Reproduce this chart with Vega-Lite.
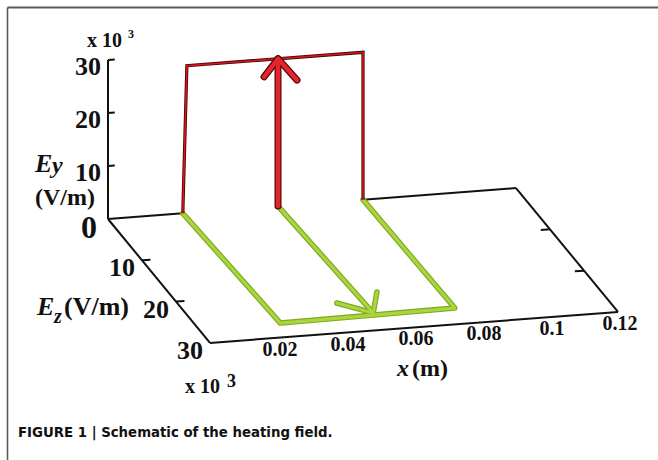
{
  "$schema": "https://vega.github.io/schema/vega-lite/v6.json",
  "width": 651,
  "height": 453,
  "autosize": "none",
  "padding": {"left": 7, "top": 7, "right": 0, "bottom": 0},
  "background": "white",
  "config": {"view": {"stroke": null}},
  "title": {
    "text": "FIGURE 1 | Schematic of the heating field.",
    "orient": "bottom",
    "anchor": "start",
    "offset": -23,
    "dx": 11,
    "baseline": "alphabetic",
    "font": "DejaVu Sans Condensed, Liberation Sans, sans-serif",
    "fontSize": 14.8,
    "fontWeight": "bold",
    "color": "#111111"
  },
  "data": {
    "values": [
      {"g": "axis", "seg": "ey", "i": 0, "x": 0, "ey": 0, "ez": 0},
      {"g": "axis", "seg": "ey", "i": 1, "x": 0, "ey": 30000, "ez": 0},
      {"g": "axis", "seg": "eyT1", "i": 0, "x": 0, "ey": 10000, "ez": 0},
      {"g": "axis", "seg": "eyT1", "i": 1, "x": 0.002, "ey": 10000, "ez": 0},
      {"g": "axis", "seg": "eyT2", "i": 0, "x": 0, "ey": 20000, "ez": 0},
      {"g": "axis", "seg": "eyT2", "i": 1, "x": 0.002, "ey": 20000, "ez": 0},
      {"g": "axis", "seg": "eyT3", "i": 0, "x": 0, "ey": 30000, "ez": 0},
      {"g": "axis", "seg": "eyT3", "i": 1, "x": 0.002, "ey": 30000, "ez": 0},
      {"g": "axis", "seg": "ezL", "i": 0, "x": 0, "ey": 0, "ez": 0},
      {"g": "axis", "seg": "ezL", "i": 1, "x": 0, "ey": 0, "ez": 30000},
      {"g": "axis", "seg": "ezLT1", "i": 0, "x": 0, "ey": 0, "ez": 10000},
      {"g": "axis", "seg": "ezLT1", "i": 1, "x": 0.0025, "ey": 0, "ez": 10000},
      {"g": "axis", "seg": "ezLT2", "i": 0, "x": 0, "ey": 0, "ez": 20000},
      {"g": "axis", "seg": "ezLT2", "i": 1, "x": 0.0025, "ey": 0, "ez": 20000},
      {"g": "axis", "seg": "xF", "i": 0, "x": 0, "ey": 0, "ez": 30000},
      {"g": "axis", "seg": "xF", "i": 1, "x": 0.12, "ey": 0, "ez": 30000},
      {"g": "axis", "seg": "xBL", "i": 0, "x": 0, "ey": 0, "ez": 0},
      {"g": "axis", "seg": "xBL", "i": 1, "x": 0.022, "ey": 0, "ez": 0},
      {"g": "axis", "seg": "xBR", "i": 0, "x": 0.075, "ey": 0, "ez": 0},
      {"g": "axis", "seg": "xBR", "i": 1, "x": 0.12, "ey": 0, "ez": 0},
      {"g": "axis", "seg": "ezR", "i": 0, "x": 0.12, "ey": 0, "ez": 0},
      {"g": "axis", "seg": "ezR", "i": 1, "x": 0.12, "ey": 0, "ez": 30000},
      {"g": "axis", "seg": "ezRT1", "i": 0, "x": 0.12, "ey": 0, "ez": 10000},
      {"g": "axis", "seg": "ezRT1", "i": 1, "x": 0.1173, "ey": 0, "ez": 10000},
      {"g": "axis", "seg": "ezRT2", "i": 0, "x": 0.12, "ey": 0, "ez": 20000},
      {"g": "axis", "seg": "ezRT2", "i": 1, "x": 0.1173, "ey": 0, "ez": 20000},
      {"g": "plane", "seg": "rect", "i": 0, "x": 0.022, "ey": 0, "ez": 0},
      {"g": "plane", "seg": "rect", "i": 1, "x": 0.024, "ey": 0, "ez": 26700},
      {"g": "plane", "seg": "rect", "i": 2, "x": 0.0757, "ey": 0, "ez": 26300},
      {"g": "plane", "seg": "rect", "i": 3, "x": 0.075, "ey": 0, "ez": 0},
      {"g": "plane", "seg": "shaft", "i": 0, "x": 0.05, "ey": 0, "ez": 0},
      {"g": "plane", "seg": "shaft", "i": 1, "x": 0.052, "ey": 0, "ez": 26000},
      {"g": "plane", "seg": "head", "i": 0, "x": 0.0442, "ey": 0, "ez": 23100},
      {"g": "plane", "seg": "head", "i": 1, "x": 0.052, "ey": 0, "ez": 26000},
      {"g": "plane", "seg": "head", "i": 2, "x": 0.0578, "ey": 0, "ez": 21290},
      {"g": "wall", "seg": "wall", "i": 0, "x": 0.022, "ey": 0, "ez": 0},
      {"g": "wall", "seg": "wall", "i": 1, "x": 0.0232, "ey": 27800, "ez": 0},
      {"g": "wall", "seg": "wall", "i": 2, "x": 0.075, "ey": 27800, "ez": 0},
      {"g": "wall", "seg": "wall", "i": 3, "x": 0.075, "ey": 0, "ez": 0},
      {"g": "arrow", "seg": "shaft", "i": 0, "x": 0.05, "ey": 0, "ez": 0},
      {"g": "arrow", "seg": "shaft", "i": 1, "x": 0.05, "ey": 27800, "ez": 0},
      {"g": "arrow", "seg": "head", "i": 0, "x": 0.0459, "ey": 24600, "ez": 0},
      {"g": "arrow", "seg": "head", "i": 1, "x": 0.05, "ey": 27800, "ez": 0},
      {"g": "arrow", "seg": "head", "i": 2, "x": 0.0556, "ey": 23500, "ez": 0},
      {"g": "eyTick", "text": "10", "x": 0, "ey": 10000, "ez": 0},
      {"g": "eyTick", "text": "20", "x": 0, "ey": 20000, "ez": 0},
      {"g": "eyTick", "text": "30", "x": 0, "ey": 30000, "ez": 0},
      {"g": "zero", "text": "0", "x": 0, "ey": 0, "ez": 0},
      {"g": "ezTick", "text": "10", "x": 0, "ey": 0, "ez": 10000},
      {"g": "ezTick", "text": "20", "x": 0, "ey": 0, "ez": 20000},
      {"g": "ezTick", "text": "30", "x": 0, "ey": 0, "ez": 30000},
      {"g": "xTick", "text": "0.02", "x": 0.02, "ey": 0, "ez": 30000},
      {"g": "xTick", "text": "0.04", "x": 0.04, "ey": 0, "ez": 30000},
      {"g": "xTick", "text": "0.06", "x": 0.06, "ey": 0, "ez": 30000},
      {"g": "xTick", "text": "0.08", "x": 0.08, "ey": 0, "ez": 30000},
      {"g": "xTick", "text": "0.1", "x": 0.1, "ey": 0, "ez": 30000},
      {"g": "xTick", "text": "0.12", "x": 0.12, "ey": 0, "ez": 30000},
      {"g": "eyE", "text": "E", "x": 0, "ey": 10000, "ez": 0},
      {"g": "eySub", "text": "y", "x": 0, "ey": 10000, "ez": 0},
      {"g": "eyUnit", "text": "(V/m)", "x": 0, "ey": 10000, "ez": 0},
      {"g": "eyExp", "text": "x 10", "x": 0, "ey": 30000, "ez": 0},
      {"g": "eyExpSup", "text": "3", "x": 0, "ey": 30000, "ez": 0},
      {"g": "ezE", "text": "E", "x": 0, "ey": 0, "ez": 20000},
      {"g": "ezSub", "text": "z", "x": 0, "ey": 0, "ez": 20000},
      {"g": "ezUnit", "text": "(V/m)", "x": 0, "ey": 0, "ez": 20000},
      {"g": "ezExp", "text": "x 10", "x": 0, "ey": 0, "ez": 30000},
      {"g": "ezExpSup", "text": "3", "x": 0, "ey": 0, "ez": 30000},
      {"g": "xVar", "text": "x", "x": 0.06, "ey": 0, "ez": 30000},
      {"g": "xUnit", "text": "(m)", "x": 0.06, "ey": 0, "ez": 30000}
    ]
  },
  "transform": [
    {"calculate": "3400 * datum.x + 0.0034 * datum.ez", "as": "sx"},
    {"calculate": "0.0053 * datum.ey - 0.00413 * datum.ez + 258 * datum.x", "as": "sy"}
  ],
  "encoding": {
    "x": {
      "field": "sx", "type": "quantitative",
      "scale": {"domain": [-101, 550], "nice": false, "zero": false},
      "axis": {"orient": "top", "domain": true, "domainColor": "#5a5a5a", "domainWidth": 2, "ticks": false, "labels": false, "grid": false, "title": null}
    },
    "y": {
      "field": "sy", "type": "quantitative",
      "scale": {"domain": [-241, 212], "nice": false, "zero": false},
      "axis": {"orient": "left", "domain": true, "domainColor": "#5a5a5a", "domainWidth": 1.6, "ticks": false, "labels": false, "grid": false, "title": null}
    }
  },
  "layer": [
    {
      "transform": [{"filter": "datum.g == 'axis'"}],
      "mark": {"type": "line", "color": "#111111", "strokeWidth": 2},
      "encoding": {"detail": {"field": "seg", "type": "nominal"}, "order": {"field": "i", "type": "quantitative"}}
    },
    {
      "transform": [{"filter": "datum.g == 'plane'"}],
      "mark": {"type": "line", "color": "#7fa825", "strokeWidth": 5.5, "strokeCap": "round", "strokeJoin": "round"},
      "encoding": {"detail": {"field": "seg", "type": "nominal"}, "order": {"field": "i", "type": "quantitative"}}
    },
    {
      "transform": [{"filter": "datum.g == 'plane'"}],
      "mark": {"type": "line", "color": "#a8d63c", "strokeWidth": 3.2, "strokeCap": "round", "strokeJoin": "round"},
      "encoding": {"detail": {"field": "seg", "type": "nominal"}, "order": {"field": "i", "type": "quantitative"}}
    },
    {
      "transform": [{"filter": "datum.g == 'wall'"}],
      "mark": {"type": "line", "color": "#3a0505", "strokeWidth": 3.2},
      "encoding": {"detail": {"field": "seg", "type": "nominal"}, "order": {"field": "i", "type": "quantitative"}}
    },
    {
      "transform": [{"filter": "datum.g == 'wall'"}],
      "mark": {"type": "line", "color": "#d9161f", "strokeWidth": 1.6},
      "encoding": {"detail": {"field": "seg", "type": "nominal"}, "order": {"field": "i", "type": "quantitative"}}
    },
    {
      "transform": [{"filter": "datum.g == 'arrow'"}],
      "mark": {"type": "line", "color": "#5a0808", "strokeWidth": 7, "strokeCap": "round", "strokeJoin": "round"},
      "encoding": {"detail": {"field": "seg", "type": "nominal"}, "order": {"field": "i", "type": "quantitative"}}
    },
    {
      "transform": [{"filter": "datum.g == 'arrow'"}],
      "mark": {"type": "line", "color": "#e3262d", "strokeWidth": 4.5, "strokeCap": "round", "strokeJoin": "round"},
      "encoding": {"detail": {"field": "seg", "type": "nominal"}, "order": {"field": "i", "type": "quantitative"}}
    },
    {
      "transform": [{"filter": "datum.g == 'eyTick'"}],
      "mark": {"type": "text", "font": "Liberation Serif", "fontWeight": "bold", "fontSize": 26, "align": "right", "baseline": "middle", "dx": -7, "dy": 7, "color": "#111111"},
      "encoding": {"text": {"field": "text"}}
    },
    {
      "transform": [{"filter": "datum.g == 'zero'"}],
      "mark": {"type": "text", "font": "Liberation Serif", "fontWeight": "bold", "fontSize": 32, "align": "right", "baseline": "middle", "dx": -11, "dy": 9, "color": "#111111"},
      "encoding": {"text": {"field": "text"}}
    },
    {
      "transform": [{"filter": "datum.g == 'ezTick'"}],
      "mark": {"type": "text", "font": "Liberation Serif", "fontWeight": "bold", "fontSize": 26, "align": "right", "baseline": "middle", "dx": -7, "dy": 8, "color": "#111111"},
      "encoding": {"text": {"field": "text"}}
    },
    {
      "transform": [{"filter": "datum.g == 'xTick'"}],
      "mark": {"type": "text", "font": "Liberation Serif", "fontWeight": "bold", "fontSize": 20, "align": "center", "baseline": "middle", "dx": 2, "dy": 12, "color": "#111111"},
      "encoding": {"text": {"field": "text"}}
    },
    {
      "transform": [{"filter": "datum.g == 'eyE'"}],
      "mark": {"type": "text", "font": "Liberation Serif", "fontWeight": "bold", "fontStyle": "italic", "fontSize": 26, "align": "left", "baseline": "alphabetic", "dx": -73, "dy": 6, "color": "#111111"},
      "encoding": {"text": {"field": "text"}}
    },
    {
      "transform": [{"filter": "datum.g == 'eySub'"}],
      "mark": {"type": "text", "font": "Liberation Serif", "fontWeight": "bold", "fontStyle": "italic", "fontSize": 24, "align": "left", "baseline": "alphabetic", "dx": -56, "dy": 7, "color": "#111111"},
      "encoding": {"text": {"field": "text"}}
    },
    {
      "transform": [{"filter": "datum.g == 'eyUnit'"}],
      "mark": {"type": "text", "font": "Liberation Serif", "fontWeight": "bold", "fontSize": 24, "align": "left", "baseline": "alphabetic", "dx": -73, "dy": 39, "color": "#111111"},
      "encoding": {"text": {"field": "text"}}
    },
    {
      "transform": [{"filter": "datum.g == 'eyExp'"}],
      "mark": {"type": "text", "font": "Liberation Serif", "fontWeight": "bold", "fontSize": 20, "align": "left", "baseline": "alphabetic", "dx": -21, "dy": -13, "color": "#111111"},
      "encoding": {"text": {"field": "text"}}
    },
    {
      "transform": [{"filter": "datum.g == 'eyExpSup'"}],
      "mark": {"type": "text", "font": "Liberation Serif", "fontWeight": "bold", "fontSize": 12, "align": "left", "baseline": "alphabetic", "dx": 20, "dy": -22, "color": "#111111"},
      "encoding": {"text": {"field": "text"}}
    },
    {
      "transform": [{"filter": "datum.g == 'ezE'"}],
      "mark": {"type": "text", "font": "Liberation Serif", "fontWeight": "bold", "fontStyle": "italic", "fontSize": 26, "align": "left", "baseline": "alphabetic", "dx": -139, "dy": 13, "color": "#111111"},
      "encoding": {"text": {"field": "text"}}
    },
    {
      "transform": [{"filter": "datum.g == 'ezSub'"}],
      "mark": {"type": "text", "font": "Liberation Serif", "fontWeight": "bold", "fontStyle": "italic", "fontSize": 20, "align": "left", "baseline": "alphabetic", "dx": -122, "dy": 21, "color": "#111111"},
      "encoding": {"text": {"field": "text"}}
    },
    {
      "transform": [{"filter": "datum.g == 'ezUnit'"}],
      "mark": {"type": "text", "font": "Liberation Serif", "fontWeight": "bold", "fontSize": 26, "align": "left", "baseline": "alphabetic", "dx": -112, "dy": 13, "color": "#111111"},
      "encoding": {"text": {"field": "text"}}
    },
    {
      "transform": [{"filter": "datum.g == 'ezExp'"}],
      "mark": {"type": "text", "font": "Liberation Serif", "fontWeight": "bold", "fontSize": 20, "align": "left", "baseline": "alphabetic", "dx": -25, "dy": 50, "color": "#111111"},
      "encoding": {"text": {"field": "text"}}
    },
    {
      "transform": [{"filter": "datum.g == 'ezExpSup'"}],
      "mark": {"type": "text", "font": "Liberation Serif", "fontWeight": "bold", "fontSize": 18, "align": "left", "baseline": "alphabetic", "dx": 17, "dy": 44, "color": "#111111"},
      "encoding": {"text": {"field": "text"}}
    },
    {
      "transform": [{"filter": "datum.g == 'xVar'"}],
      "mark": {"type": "text", "font": "Liberation Serif", "fontWeight": "bold", "fontStyle": "italic", "fontSize": 24, "align": "left", "baseline": "alphabetic", "dx": -17, "dy": 49, "color": "#111111"},
      "encoding": {"text": {"field": "text"}}
    },
    {
      "transform": [{"filter": "datum.g == 'xUnit'"}],
      "mark": {"type": "text", "font": "Liberation Serif", "fontWeight": "bold", "fontSize": 24, "align": "left", "baseline": "alphabetic", "dx": -2, "dy": 49, "color": "#111111"},
      "encoding": {"text": {"field": "text"}}
    }
  ]
}
